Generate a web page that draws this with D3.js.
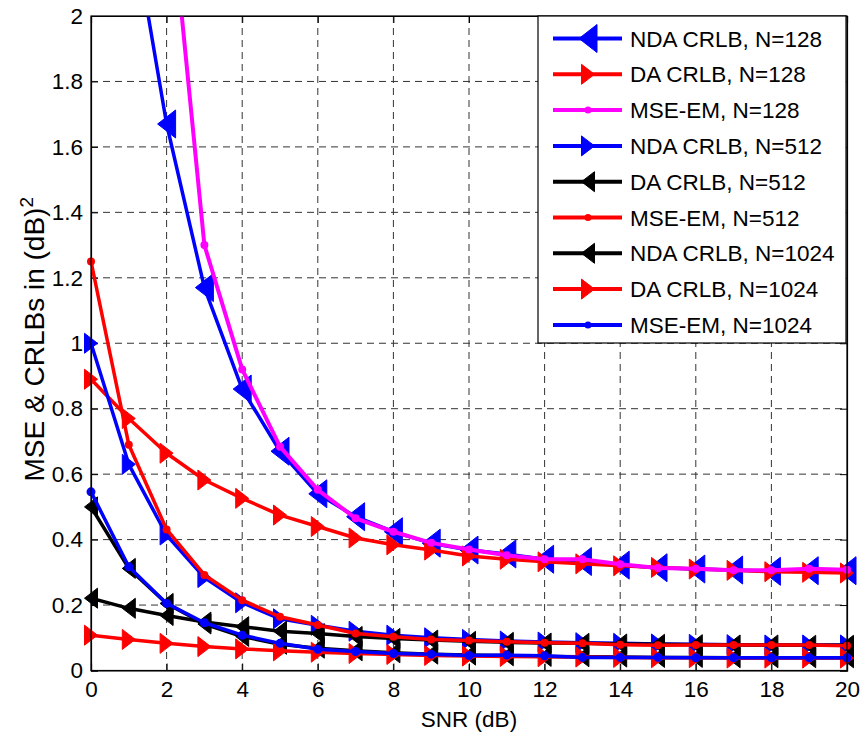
<!DOCTYPE html>
<html>
<head>
<meta charset="utf-8">
<script src="https://cdn.jsdelivr.net/npm/d3@7"></script>
<style>
  html, body { margin: 0; padding: 0; background: #fff; }
  svg { display: block; }
  text { font-family: "Liberation Sans", Arial, sans-serif; }
</style>
</head>
<body>
<svg id="chart" width="864" height="740"></svg>
<script>
// ---------- data ----------
const snr = [0,1,2,3,4,5,6,7,8,9,10,11,12,13,14,15,16,17,18,19,20];
const xTicks = [0,2,4,6,8,10,12,14,16,18,20];
const yTicks = [0,0.2,0.4,0.6,0.8,1,1.2,1.4,1.6,1.8,2];
const yTickLabels = ["0","0.2","0.4","0.6","0.8","1","1.2","1.4","1.6","1.8","2"];

const ndaCrlb128  = [4.0, 2.35, 1.67, 1.17, 0.86, 0.67, 0.54, 0.47, 0.424, 0.389, 0.368, 0.356, 0.34, 0.333, 0.322, 0.314, 0.31, 0.307, 0.303, 0.305, 0.305];
const daCrlb128   = [0.89, 0.77, 0.664, 0.582, 0.526, 0.475, 0.44, 0.405, 0.384, 0.368, 0.35, 0.34, 0.332, 0.326, 0.32, 0.315, 0.31, 0.306, 0.302, 0.3, 0.298];
const mseEm128    = [6.0, 3.6, 2.47, 1.30, 0.92, 0.684, 0.552, 0.465, 0.424, 0.39, 0.37, 0.352, 0.34, 0.34, 0.325, 0.313, 0.311, 0.306, 0.306, 0.311, 0.308];
const ndaCrlb512  = [1.0, 0.63, 0.414, 0.284, 0.207, 0.158, 0.138, 0.12, 0.108, 0.1, 0.095, 0.09, 0.087, 0.085, 0.083, 0.081, 0.08, 0.079, 0.078, 0.078, 0.078];
const daCrlb512   = [0.221, 0.19, 0.168, 0.148, 0.134, 0.12, 0.113, 0.104, 0.098, 0.093, 0.089, 0.086, 0.084, 0.083, 0.081, 0.08, 0.079, 0.078, 0.078, 0.077, 0.077];
const mseEm512    = [1.25, 0.69, 0.431, 0.292, 0.215, 0.164, 0.139, 0.113, 0.103, 0.095, 0.092, 0.088, 0.085, 0.083, 0.079, 0.077, 0.078, 0.078, 0.078, 0.078, 0.076];
const ndaCrlb1024 = [0.5, 0.312, 0.205, 0.142, 0.104, 0.08, 0.068, 0.06, 0.054, 0.05, 0.047, 0.045, 0.043, 0.042, 0.041, 0.04, 0.04, 0.039, 0.039, 0.039, 0.039];
const daCrlb1024  = [0.108, 0.095, 0.083, 0.073, 0.066, 0.06, 0.056, 0.052, 0.049, 0.046, 0.044, 0.043, 0.042, 0.041, 0.04, 0.039, 0.039, 0.038, 0.038, 0.038, 0.038];
const mseEm1024   = [0.546, 0.317, 0.205, 0.146, 0.108, 0.083, 0.065, 0.058, 0.052, 0.05, 0.046, 0.047, 0.045, 0.04, 0.04, 0.04, 0.039, 0.039, 0.039, 0.039, 0.039];

const seriesNames = ["NDA CRLB, N=128","DA CRLB, N=128","MSE-EM, N=128","NDA CRLB, N=512","DA CRLB, N=512","MSE-EM, N=512","NDA CRLB, N=1024","DA CRLB, N=1024","MSE-EM, N=1024"];
const seriesValues = [ndaCrlb128, daCrlb128, mseEm128, ndaCrlb512, daCrlb512, mseEm512, ndaCrlb1024, daCrlb1024, mseEm1024];
const seriesColors = ["#0000ff","#ff0000","#ff00ff","#0000ff","#000000","#ff0000","#000000","#ff0000","#0000ff"];
const seriesMarkers = ["bigLeft","right","dot","right","left","dot","left","right","dot"];

// ---------- layout ----------
const svg = d3.select("#chart");
const L = 91, R = 847, T = 16, B = 670.5;
const x = d3.scaleLinear().domain([0,20]).range([L,R]);
const y = d3.scaleLinear().domain([0,2]).range([B,T]);
const FONT = 22.5;

svg.append("rect").attr("width",864).attr("height",740).attr("fill","#fff");

svg.append("defs").append("clipPath").attr("id","plotclip")
  .append("rect").attr("x",L).attr("y",T).attr("width",R-L).attr("height",B-T);

// grid
const grid = svg.append("g");
grid.selectAll("line.vx").data(xTicks.slice(1,-1)).enter().append("line")
  .attr("x1",d=>x(d)).attr("x2",d=>x(d)).attr("y1",T).attr("y2",B)
  .attr("stroke","#333").attr("stroke-width",1).attr("stroke-dasharray","7,5");
grid.selectAll("line.hy").data(yTicks.slice(1,-1)).enter().append("line")
  .attr("y1",d=>y(d)).attr("y2",d=>y(d)).attr("x1",L).attr("x2",R)
  .attr("stroke","#333").attr("stroke-width",1).attr("stroke-dasharray","7,5");

// axes with inward ticks
const xAxis = d3.axisBottom(x).tickValues(xTicks).tickSize(-7).tickPadding(11).tickFormat(d3.format("d"));
const yAxis = d3.axisLeft(y).tickValues(yTicks).tickSize(-7).tickPadding(8).tickFormat((d,i)=>yTickLabels[i]);
const gx = svg.append("g").attr("transform",`translate(0,${B})`).call(xAxis);
const gy = svg.append("g").attr("transform",`translate(${L},0)`).call(yAxis);
const gx2 = svg.append("g").attr("transform",`translate(0,${T})`).call(d3.axisTop(x).tickValues(xTicks).tickSize(-7).tickFormat(""));
const gy2 = svg.append("g").attr("transform",`translate(${R},0)`).call(d3.axisRight(y).tickValues(yTicks).tickSize(-7).tickFormat(""));
[gx,gy,gx2,gy2].forEach(g=>{
  g.select(".domain").attr("stroke","#000").attr("stroke-width",1.2);
  g.selectAll(".tick line").attr("stroke","#000");
  g.selectAll("text").attr("font-size",FONT).attr("fill","#000").attr("font-family","Liberation Sans, Arial, sans-serif");
});

// markers
function markerPath(kind){
  if (kind==="left")    return "M-6.5,0L6.5,-10L6.5,10Z";
  if (kind==="right")   return "M6.5,0L-6.5,-10L-6.5,10Z";
  if (kind==="bigLeft") return "M-9,0L9,-14L9,14Z";
  return null;
}

const plot = svg.append("g");
const line = d3.line().x(d=>x(d[0])).y(d=>y(d[1]));
seriesValues.forEach((vals,i)=>{
  const pts = snr.map((s,k)=>[s, vals[k]]);
  const col = seriesColors[i];
  const g = plot.append("g");
  g.append("path").attr("d",line(pts)).attr("fill","none")
    .attr("stroke",col).attr("stroke-width", i===2 ? 4 : 3.5)
    .attr("stroke-linejoin","round").attr("clip-path","url(#plotclip)");
  const inside = pts.filter(p=>p[1] <= 2);
  const mk = seriesMarkers[i];
  if (mk === "dot") {
    g.selectAll("circle").data(inside).enter().append("circle")
      .attr("cx",d=>x(d[0])).attr("cy",d=>y(d[1])).attr("r", col==="#0000ff" ? 4.5 : 4)
      .attr("fill",col);
  } else {
    g.selectAll("path.m").data(inside).enter().append("path").attr("class","m")
      .attr("d",markerPath(mk))
      .attr("transform",d=>`translate(${x(d[0])},${y(d[1])})`)
      .attr("fill",col).attr("stroke",col).attr("stroke-width",1);
  }
});

// redraw box on top
svg.append("rect").attr("x",L).attr("y",T).attr("width",R-L).attr("height",B-T)
  .attr("fill","none").attr("stroke","#000").attr("stroke-width",1.2);

// axis labels
svg.append("text").attr("x",(L+R)/2).attr("y",727).attr("text-anchor","middle")
  .attr("font-size",FONT).text("SNR (dB)");
const yl = svg.append("text").attr("transform",`translate(44,${(T+B)/2 - 4}) rotate(-90)`)
  .attr("text-anchor","middle").attr("font-size",28);
yl.append("tspan").text("MSE & CRLBs in (dB)");
yl.append("tspan").attr("dy",-11).attr("font-size",19).text("2");

// legend
const legX = 538, legY = 16, legW = 308, legRow = 35.8, legH = 327;
const leg = svg.append("g");
leg.append("rect").attr("x",legX).attr("y",legY).attr("width",legW).attr("height",legH)
  .attr("fill","#fff").attr("stroke","#000").attr("stroke-width",1.2);
seriesNames.forEach((name,i)=>{
  const cy = legY + 22.5 + i*legRow;
  const col = seriesColors[i];
  const g = leg.append("g");
  g.append("line").attr("x1",553).attr("x2",622).attr("y1",cy).attr("y2",cy)
    .attr("stroke",col).attr("stroke-width",4);
  const mk = seriesMarkers[i];
  if (mk === "dot") {
    g.append("circle").attr("cx",588).attr("cy",cy).attr("r",3.5).attr("fill",col);
  } else {
    g.append("path").attr("d",markerPath(mk)).attr("transform",`translate(588,${cy})`)
      .attr("fill",col).attr("stroke",col).attr("stroke-width",1);
  }
  g.append("text").attr("x",630).attr("y",cy).attr("dy","0.36em")
    .attr("font-size",FONT).attr("fill","#000").text(name);
});
</script>
</body>
</html>
